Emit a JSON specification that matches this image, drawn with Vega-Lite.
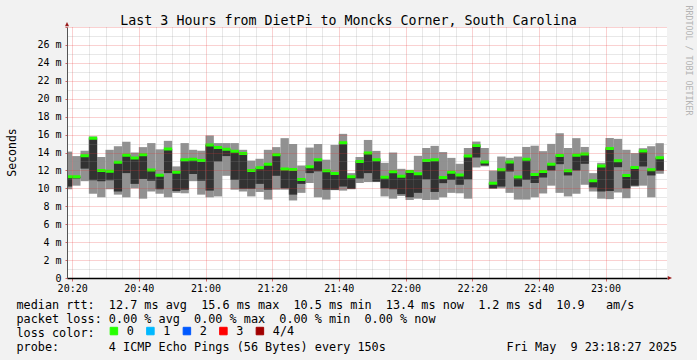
{
  "$schema": "https://vega.github.io/schema/vega-lite/v6.json",
  "width": 600,
  "height": 251,
  "autosize": {"type": "none"},
  "padding": {"left": 67, "top": 27, "right": 30, "bottom": 82},
  "background": "#f2f2f2",
  "config": {"view": {"fill": "white", "stroke": null}, "font": "DejaVu Sans Mono"},
  "datasets": {
    "pings": [
      {"s": "2025-05-09T20:17:30Z", "e": "2025-05-09T20:20:00Z", "p1": 9.9, "p2": 10.2, "med": 11.3, "p4": 14.1, "loss": "0"},
      {"s": "2025-05-09T20:20:00Z", "e": "2025-05-09T20:22:30Z", "p1": 10.3, "p2": 11.1, "med": 11.3, "p4": 13.6, "loss": "0"},
      {"s": "2025-05-09T20:22:30Z", "e": "2025-05-09T20:25:00Z", "p1": 10.8, "p2": 12.2, "med": 13.65, "p4": 14.2, "loss": "0"},
      {"s": "2025-05-09T20:25:00Z", "e": "2025-05-09T20:27:30Z", "p1": 9.4, "p2": 10.9, "med": 15.6, "p4": 15.8, "loss": "0"},
      {"s": "2025-05-09T20:27:30Z", "e": "2025-05-09T20:30:00Z", "p1": 9.0, "p2": 10.8, "med": 12.0, "p4": 13.5, "loss": "0"},
      {"s": "2025-05-09T20:30:00Z", "e": "2025-05-09T20:32:30Z", "p1": 9.9, "p2": 10.9, "med": 11.9, "p4": 14.3, "loss": "0"},
      {"s": "2025-05-09T20:32:30Z", "e": "2025-05-09T20:35:00Z", "p1": 9.3, "p2": 9.65, "med": 12.9, "p4": 14.7, "loss": "0"},
      {"s": "2025-05-09T20:35:00Z", "e": "2025-05-09T20:37:30Z", "p1": 9.0, "p2": 11.7, "med": 13.7, "p4": 15.2, "loss": "0"},
      {"s": "2025-05-09T20:37:30Z", "e": "2025-05-09T20:40:00Z", "p1": 10.0, "p2": 10.5, "med": 13.4, "p4": 14.0, "loss": "0"},
      {"s": "2025-05-09T20:40:00Z", "e": "2025-05-09T20:42:30Z", "p1": 8.85, "p2": 11.05, "med": 13.75, "p4": 14.6, "loss": "0"},
      {"s": "2025-05-09T20:42:30Z", "e": "2025-05-09T20:45:00Z", "p1": 9.65, "p2": 10.85, "med": 12.05, "p4": 15.05, "loss": "0"},
      {"s": "2025-05-09T20:45:00Z", "e": "2025-05-09T20:47:30Z", "p1": 9.4, "p2": 9.9, "med": 11.45, "p4": 14.35, "loss": "0"},
      {"s": "2025-05-09T20:47:30Z", "e": "2025-05-09T20:50:00Z", "p1": 9.0, "p2": 11.7, "med": 14.4, "p4": 15.3, "loss": "0"},
      {"s": "2025-05-09T20:50:00Z", "e": "2025-05-09T20:52:30Z", "p1": 9.5, "p2": 9.7, "med": 11.8, "p4": 12.45, "loss": "0"},
      {"s": "2025-05-09T20:52:30Z", "e": "2025-05-09T20:55:00Z", "p1": 9.45, "p2": 9.85, "med": 13.2, "p4": 15.05, "loss": "0"},
      {"s": "2025-05-09T20:55:00Z", "e": "2025-05-09T20:57:30Z", "p1": 10.8, "p2": 11.6, "med": 13.25, "p4": 14.3, "loss": "0"},
      {"s": "2025-05-09T20:57:30Z", "e": "2025-05-09T21:00:00Z", "p1": 9.3, "p2": 10.85, "med": 13.1, "p4": 14.2, "loss": "0"},
      {"s": "2025-05-09T21:00:00Z", "e": "2025-05-09T21:02:30Z", "p1": 9.0, "p2": 9.75, "med": 14.85, "p4": 15.9, "loss": "0"},
      {"s": "2025-05-09T21:02:30Z", "e": "2025-05-09T21:05:00Z", "p1": 9.1, "p2": 13.0, "med": 14.55, "p4": 15.05, "loss": "0"},
      {"s": "2025-05-09T21:05:00Z", "e": "2025-05-09T21:07:30Z", "p1": 11.4, "p2": 13.6, "med": 14.35, "p4": 15.05, "loss": "0"},
      {"s": "2025-05-09T21:07:30Z", "e": "2025-05-09T21:10:00Z", "p1": 9.85, "p2": 10.95, "med": 14.15, "p4": 15.05, "loss": "0"},
      {"s": "2025-05-09T21:10:00Z", "e": "2025-05-09T21:12:30Z", "p1": 9.65, "p2": 9.95, "med": 13.9, "p4": 14.3, "loss": "0"},
      {"s": "2025-05-09T21:12:30Z", "e": "2025-05-09T21:15:00Z", "p1": 9.1, "p2": 9.95, "med": 12.0, "p4": 13.1, "loss": "0"},
      {"s": "2025-05-09T21:15:00Z", "e": "2025-05-09T21:17:30Z", "p1": 9.6, "p2": 10.5, "med": 12.3, "p4": 13.3, "loss": "0"},
      {"s": "2025-05-09T21:17:30Z", "e": "2025-05-09T21:20:00Z", "p1": 8.75, "p2": 9.85, "med": 12.7, "p4": 14.3, "loss": "0"},
      {"s": "2025-05-09T21:20:00Z", "e": "2025-05-09T21:22:30Z", "p1": 9.85, "p2": 11.4, "med": 13.75, "p4": 14.6, "loss": "0"},
      {"s": "2025-05-09T21:22:30Z", "e": "2025-05-09T21:25:00Z", "p1": 9.85, "p2": 10.0, "med": 12.15, "p4": 15.6, "loss": "0"},
      {"s": "2025-05-09T21:25:00Z", "e": "2025-05-09T21:27:30Z", "p1": 8.65, "p2": 9.3, "med": 12.1, "p4": 14.95, "loss": "0"},
      {"s": "2025-05-09T21:27:30Z", "e": "2025-05-09T21:30:00Z", "p1": 9.5, "p2": 10.5, "med": 11.0, "p4": 12.55, "loss": "0"},
      {"s": "2025-05-09T21:30:00Z", "e": "2025-05-09T21:32:30Z", "p1": 10.6, "p2": 11.7, "med": 12.4, "p4": 14.55, "loss": "0"},
      {"s": "2025-05-09T21:32:30Z", "e": "2025-05-09T21:35:00Z", "p1": 9.0, "p2": 11.9, "med": 13.2, "p4": 14.95, "loss": "0"},
      {"s": "2025-05-09T21:35:00Z", "e": "2025-05-09T21:37:30Z", "p1": 8.75, "p2": 9.85, "med": 11.97, "p4": 13.2, "loss": "0"},
      {"s": "2025-05-09T21:37:30Z", "e": "2025-05-09T21:40:00Z", "p1": 9.8, "p2": 9.85, "med": 11.65, "p4": 14.85, "loss": "0"},
      {"s": "2025-05-09T21:40:00Z", "e": "2025-05-09T21:42:30Z", "p1": 9.75, "p2": 10.2, "med": 15.1, "p4": 16.08, "loss": "0"},
      {"s": "2025-05-09T21:42:30Z", "e": "2025-05-09T21:45:00Z", "p1": 9.9, "p2": 9.95, "med": 11.3, "p4": 11.7, "loss": "0"},
      {"s": "2025-05-09T21:45:00Z", "e": "2025-05-09T21:47:30Z", "p1": 10.6, "p2": 11.1, "med": 13.0, "p4": 13.5, "loss": "0"},
      {"s": "2025-05-09T21:47:30Z", "e": "2025-05-09T21:50:00Z", "p1": 10.7, "p2": 11.7, "med": 13.95, "p4": 15.4, "loss": "0"},
      {"s": "2025-05-09T21:50:00Z", "e": "2025-05-09T21:52:30Z", "p1": 10.7, "p2": 10.75, "med": 13.2, "p4": 14.18, "loss": "0"},
      {"s": "2025-05-09T21:52:30Z", "e": "2025-05-09T21:55:00Z", "p1": 9.1, "p2": 10.0, "med": 11.23, "p4": 12.85, "loss": "0"},
      {"s": "2025-05-09T21:55:00Z", "e": "2025-05-09T21:57:30Z", "p1": 8.85, "p2": 9.9, "med": 11.85, "p4": 14.0, "loss": "0"},
      {"s": "2025-05-09T21:57:30Z", "e": "2025-05-09T22:00:00Z", "p1": 9.15, "p2": 9.35, "med": 11.35, "p4": 12.18, "loss": "0"},
      {"s": "2025-05-09T22:00:00Z", "e": "2025-05-09T22:02:30Z", "p1": 8.7, "p2": 9.0, "med": 11.88, "p4": 12.07, "loss": "0"},
      {"s": "2025-05-09T22:02:30Z", "e": "2025-05-09T22:05:00Z", "p1": 8.85, "p2": 9.5, "med": 11.64, "p4": 13.63, "loss": "0"},
      {"s": "2025-05-09T22:05:00Z", "e": "2025-05-09T22:07:30Z", "p1": 8.7, "p2": 11.0, "med": 13.1, "p4": 14.5, "loss": "0"},
      {"s": "2025-05-09T22:07:30Z", "e": "2025-05-09T22:10:00Z", "p1": 8.72, "p2": 9.6, "med": 13.18, "p4": 14.74, "loss": "0"},
      {"s": "2025-05-09T22:10:00Z", "e": "2025-05-09T22:12:30Z", "p1": 9.0, "p2": 10.58, "med": 11.2, "p4": 14.05, "loss": "0"},
      {"s": "2025-05-09T22:12:30Z", "e": "2025-05-09T22:15:00Z", "p1": 9.5, "p2": 10.95, "med": 11.8, "p4": 13.4, "loss": "0"},
      {"s": "2025-05-09T22:15:00Z", "e": "2025-05-09T22:17:30Z", "p1": 9.45, "p2": 10.4, "med": 11.5, "p4": 12.74, "loss": "0"},
      {"s": "2025-05-09T22:17:30Z", "e": "2025-05-09T22:20:00Z", "p1": 8.85, "p2": 11.0, "med": 13.6, "p4": 14.5, "loss": "0"},
      {"s": "2025-05-09T22:20:00Z", "e": "2025-05-09T22:22:30Z", "p1": 12.33, "p2": 13.44, "med": 14.78, "p4": 15.22, "loss": "0"},
      {"s": "2025-05-09T22:22:30Z", "e": "2025-05-09T22:25:00Z", "p1": 12.45, "p2": 12.55, "med": 12.95, "p4": 14.5, "loss": "0"},
      {"s": "2025-05-09T22:25:00Z", "e": "2025-05-09T22:27:30Z", "p1": 9.95, "p2": 10.0, "med": 10.58, "p4": 11.98, "loss": "0"},
      {"s": "2025-05-09T22:27:30Z", "e": "2025-05-09T22:30:00Z", "p1": 10.0, "p2": 10.2, "med": 12.07, "p4": 13.55, "loss": "0"},
      {"s": "2025-05-09T22:30:00Z", "e": "2025-05-09T22:32:30Z", "p1": 9.5, "p2": 11.88, "med": 12.95, "p4": 13.4, "loss": "0"},
      {"s": "2025-05-09T22:32:30Z", "e": "2025-05-09T22:35:00Z", "p1": 8.75, "p2": 10.2, "med": 11.28, "p4": 13.55, "loss": "0"},
      {"s": "2025-05-09T22:35:00Z", "e": "2025-05-09T22:37:30Z", "p1": 8.75, "p2": 10.95, "med": 13.26, "p4": 14.62, "loss": "0"},
      {"s": "2025-05-09T22:37:30Z", "e": "2025-05-09T22:40:00Z", "p1": 9.0, "p2": 10.6, "med": 11.55, "p4": 14.76, "loss": "0"},
      {"s": "2025-05-09T22:40:00Z", "e": "2025-05-09T22:42:30Z", "p1": 9.43, "p2": 11.21, "med": 11.88, "p4": 14.15, "loss": "0"},
      {"s": "2025-05-09T22:42:30Z", "e": "2025-05-09T22:45:00Z", "p1": 10.3, "p2": 11.99, "med": 12.7, "p4": 14.96, "loss": "0"},
      {"s": "2025-05-09T22:45:00Z", "e": "2025-05-09T22:47:30Z", "p1": 9.5, "p2": 12.7, "med": 13.66, "p4": 16.15, "loss": "0"},
      {"s": "2025-05-09T22:47:30Z", "e": "2025-05-09T22:50:00Z", "p1": 9.1, "p2": 11.44, "med": 11.97, "p4": 14.5, "loss": "0"},
      {"s": "2025-05-09T22:50:00Z", "e": "2025-05-09T22:52:30Z", "p1": 9.4, "p2": 11.99, "med": 13.7, "p4": 15.6, "loss": "0"},
      {"s": "2025-05-09T22:52:30Z", "e": "2025-05-09T22:55:00Z", "p1": 10.4, "p2": 12.74, "med": 13.83, "p4": 14.62, "loss": "0"},
      {"s": "2025-05-09T22:55:00Z", "e": "2025-05-09T22:57:30Z", "p1": 9.65, "p2": 10.1, "med": 10.86, "p4": 11.7, "loss": "0"},
      {"s": "2025-05-09T22:57:30Z", "e": "2025-05-09T23:00:00Z", "p1": 8.85, "p2": 9.65, "med": 12.5, "p4": 12.85, "loss": "0"},
      {"s": "2025-05-09T23:00:00Z", "e": "2025-05-09T23:02:30Z", "p1": 8.8, "p2": 9.7, "med": 14.45, "p4": 15.62, "loss": "0"},
      {"s": "2025-05-09T23:02:30Z", "e": "2025-05-09T23:05:00Z", "p1": 9.54, "p2": 12.36, "med": 13.07, "p4": 15.52, "loss": "0"},
      {"s": "2025-05-09T23:05:00Z", "e": "2025-05-09T23:07:30Z", "p1": 8.9, "p2": 10.0, "med": 11.44, "p4": 14.3, "loss": "0"},
      {"s": "2025-05-09T23:07:30Z", "e": "2025-05-09T23:10:00Z", "p1": 10.2, "p2": 10.3, "med": 12.33, "p4": 13.93, "loss": "0"},
      {"s": "2025-05-09T23:10:00Z", "e": "2025-05-09T23:12:30Z", "p1": 10.3, "p2": 12.44, "med": 14.18, "p4": 14.48, "loss": "0"},
      {"s": "2025-05-09T23:12:30Z", "e": "2025-05-09T23:15:00Z", "p1": 9.0, "p2": 11.44, "med": 12.07, "p4": 14.7, "loss": "0"},
      {"s": "2025-05-09T23:15:00Z", "e": "2025-05-09T23:17:30Z", "p1": 11.63, "p2": 11.96, "med": 13.42, "p4": 15.04, "loss": "0"}
    ],
    "arrows": [
      {"t": "2025-05-09T23:18:27Z", "v": 0, "dir": "x"},
      {"t": "2025-05-09T20:18:27Z", "v": 28, "dir": "y"}
    ]
  },
  "layer": [
    {
      "data": {"name": "pings"},
      "mark": {"type": "rect", "color": "#919191", "clip": true},
      "encoding": {
        "x": {
          "field": "s", "type": "temporal",
          "scale": {"type": "utc", "domain": [1746821907000, 1746832707000]},
          "axis": {
            "orient": "bottom",
            "values": [1746822000000, 1746822300000, 1746822600000, 1746822900000, 1746823200000, 1746823500000, 1746823800000, 1746824100000, 1746824400000, 1746824700000, 1746825000000, 1746825300000, 1746825600000, 1746825900000, 1746826200000, 1746826500000, 1746826800000, 1746827100000, 1746827400000, 1746827700000, 1746828000000, 1746828300000, 1746828600000, 1746828900000, 1746829200000, 1746829500000, 1746829800000, 1746830100000, 1746830400000, 1746830700000, 1746831000000, 1746831300000, 1746831600000, 1746831900000, 1746832200000, 1746832500000],
            "labelExpr": "utcminutes(datum.value) % 20 == 0 ? utcFormat(datum.value, '%H:%M') : ''",
            "labelOverlap": false, "labelFlush": false, "labelBound": false,
            "labelFont": "DejaVu Sans Mono", "labelFontSize": 10, "labelColor": "black", "labelPadding": 2,
            "grid": true,
            "gridColor": {"condition": {"test": "utcminutes(datum.value) % 20 == 0", "value": "rgba(230,50,50,0.45)"}, "value": "rgba(140,140,140,0.4)"},
            "gridDash": [1, 1], "gridWidth": 1,
            "domainColor": "black", "domainWidth": 1.5,
            "tickSize": 3,
            "tickColor": {"condition": {"test": "utcminutes(datum.value) % 20 == 0", "value": "rgba(200,40,40,0.7)"}, "value": "transparent"},
            "title": [
              "median rtt:\u00a0\u00a012.7\u00a0ms\u00a0avg\u00a0\u00a015.6\u00a0ms\u00a0max\u00a0\u00a010.5\u00a0ms\u00a0min\u00a0\u00a013.4\u00a0ms\u00a0now\u00a0\u00a01.2\u00a0ms\u00a0sd\u00a0\u00a010.9\u00a0\u00a0\u00a0am/s",
              "packet\u00a0loss:\u00a00.00\u00a0%\u00a0avg\u00a0\u00a00.00\u00a0%\u00a0max\u00a0\u00a00.00\u00a0%\u00a0min\u00a0\u00a00.00\u00a0%\u00a0now",
              "loss\u00a0color:",
              "probe:\u00a0\u00a0\u00a0\u00a0\u00a0\u00a0\u00a04\u00a0ICMP\u00a0Echo\u00a0Pings\u00a0(56\u00a0Bytes)\u00a0every\u00a0150s\u00a0\u00a0\u00a0\u00a0\u00a0\u00a0\u00a0\u00a0\u00a0\u00a0\u00a0\u00a0\u00a0\u00a0\u00a0\u00a0\u00a0Fri\u00a0May\u00a0\u00a09\u00a023:18:27\u00a02025"
            ],
            "titleX": -51, "titleY": 30, "titleAlign": "left", "titleBaseline": "alphabetic",
            "titleFont": "DejaVu Sans Mono", "titleFontSize": 11.8, "titleFontWeight": "normal", "titleColor": "black", "titleLineHeight": 14,
            "zindex": 1
          }
        },
        "x2": {"field": "e"},
        "y": {
          "field": "p1", "type": "quantitative",
          "scale": {"domain": [0, 28], "nice": false},
          "axis": {
            "orient": "left",
            "values": [0, 1, 2, 3, 4, 5, 6, 7, 8, 9, 10, 11, 12, 13, 14, 15, 16, 17, 18, 19, 20, 21, 22, 23, 24, 25, 26, 27, 28],
            "labelExpr": "datum.value % 2 != 0 || datum.value == 28 ? '' : (datum.value == 0 ? '0' : datum.value + ' m')",
            "labelFont": "DejaVu Sans Mono", "labelFontSize": 10, "labelColor": "black", "labelPadding": 4, "labelOverlap": false, "labelBound": false, "labelFlush": false,
            "grid": true,
            "gridColor": {"condition": {"test": "datum.value % 2 == 0", "value": "rgba(230,50,50,0.45)"}, "value": "rgba(140,140,140,0.4)"},
            "gridDash": [1, 1], "gridWidth": 1,
            "domainColor": "#555555", "domainWidth": 1,
            "tickSize": 2,
            "tickColor": {"condition": {"test": "datum.value % 2 == 0", "value": "rgba(200,40,40,0.7)"}, "value": "transparent"},
            "title": "Seconds",
            "titleFont": "DejaVu Sans Mono", "titleFontSize": 11.5, "titleFontWeight": "normal", "titleColor": "black",
            "titleAngle": 270, "titleX": -52, "titleY": 125, "titleAlign": "center", "titleBaseline": "alphabetic",
            "zindex": 1
          }
        },
        "y2": {"field": "p4"}
      }
    },
    {
      "data": {"name": "pings"},
      "mark": {"type": "rect", "color": "#323232", "clip": true},
      "encoding": {
        "x": {"field": "s", "type": "temporal", "axis": null},
        "x2": {"field": "e"},
        "y": {"field": "p2", "type": "quantitative", "axis": null},
        "y2": {"field": "med"}
      }
    },
    {
      "data": {"name": "pings"},
      "mark": {"type": "rect", "strokeWidth": 3, "clip": true},
      "encoding": {
        "x": {"field": "s", "type": "temporal", "axis": null},
        "x2": {"field": "e"},
        "y": {"field": "med", "type": "quantitative", "axis": null},
        "y2": {"field": "med"},
        "stroke": {
          "field": "loss", "type": "nominal",
          "scale": {"domain": ["0", "1", "2", "3", "4/4"], "range": ["#26ff00", "#00b8ff", "#0059ff", "#ff0000", "#a00000"]},
          "legend": null
        },
        "color": {
          "field": "loss", "type": "nominal",
          "scale": {"domain": ["0", "1", "2", "3", "4/4"], "range": ["#26ff00", "#00b8ff", "#0059ff", "#ff0000", "#a00000"]},
          "legend": {
            "title": null, "orient": "none", "legendX": 41, "legendY": 298, "direction": "horizontal",
            "labelFont": "DejaVu Sans Mono", "labelFontSize": 11.8, "labelColor": "black", "labelOffset": 7,
            "columnPadding": 10.5, "padding": 0, "offset": 0,
            "symbolType": "square", "symbolSize": 56, "symbolStrokeColor": "black", "symbolStrokeWidth": 1, "symbolOpacity": 1
          }
        }
      }
    },
    {
      "data": {"name": "arrows"},
      "mark": {"type": "point", "filled": true, "size": 25, "opacity": 1, "color": "#9a1c1c"},
      "encoding": {
        "x": {
          "field": "t", "type": "temporal",
          "axis": {
            "orient": "top", "labels": false, "ticks": false, "domain": false, "grid": false,
            "title": "Last 3 Hours from DietPi to Moncks Corner, South Carolina",
            "titleX": 281, "titleY": -3, "titleAlign": "center", "titleBaseline": "alphabetic",
            "titleFont": "DejaVu Sans Mono", "titleFontSize": 13.3, "titleFontWeight": "normal", "titleColor": "black"
          }
        },
        "y": {
          "field": "v", "type": "quantitative",
          "axis": {
            "orient": "right", "labels": false, "ticks": false, "domain": false, "grid": false,
            "title": "RRDTOOL / TOBI OETIKER",
            "titleAngle": 90, "titleX": 18, "titleY": 33, "titleAlign": "center", "titleBaseline": "alphabetic",
            "titleFont": "DejaVu Sans Mono", "titleFontSize": 8.3, "titleFontWeight": "normal", "titleColor": "#b4b4b4"
          }
        },
        "shape": {
          "field": "dir", "type": "nominal",
          "scale": {"domain": ["x", "y"], "range": ["M0.3,-0.8L2,0L0.3,0.8Z", "M-0.8,-0.3L0,-2L0.8,-0.3Z"]},
          "legend": null
        }
      }
    }
  ],
  "resolve": {"scale": {"x": "shared", "y": "shared"}, "axis": {"x": "independent", "y": "independent"}}
}
